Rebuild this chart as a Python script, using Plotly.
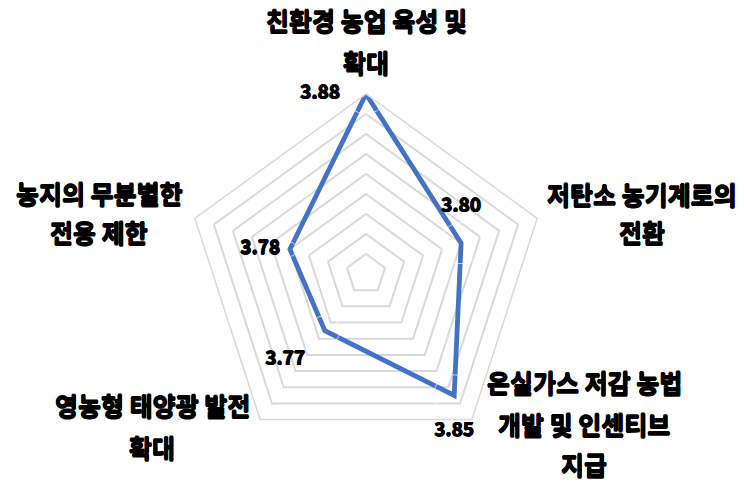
import plotly.graph_objects as go

categories = ["친환경 농업 육성 및 확대", "저탄소 농기계로의 전환",
              "온실가스 저감 농법 개발 및 인센티브 지급",
              "영농형 태양광 발전 확대", "농지의 무분별한 전용 제한"]
values = [3.88, 3.80, 3.85, 3.77, 3.78]
value_labels = ["3.88", "3.80", "3.85", "3.77", "3.78"]
ring_values = [3.72, 3.74, 3.76, 3.78, 3.80, 3.82, 3.84, 3.86]
label_lines = [["친환경 농업 육성 및", "확대"],
               ["저탄소 농기계로의", "전환"],
               ["온실가스 저감 농법", "개발 및 인센티브", "지급"],
               ["영농형 태양광 발전", "확대"],
               ["농지의 무분별한", "전용 제한"]]

# layout-only: label block centre x and y of each line (px from top-left)
label_x = [366, 642, 584, 152, 99]
label_y = [[20, 62], [194, 232], [382, 424, 464], [405, 447], [193, 232]]
text_positions = ["middle left", "top center", "bottom center", "bottom left", "middle left"]
label_offsets = [40, 41, 41, 30, 14]   # invisible marker sizes (set text standoff)

W, H = 744, 484
FONT = "Noto Sans CJK KR"
HEAVY = "0.6px 0 0 black, -0.6px 0 0 black, 0 0.6px 0 black, 0 -0.6px 0 black"

fig = go.Figure()
fig.add_trace(go.Scatterpolar(
    r=values + values[:1],
    theta=categories + categories[:1],
    mode="lines",
    line=dict(color="#4472C4", width=4.8),
    hoverinfo="skip",
))
fig.add_trace(go.Scatterpolar(
    r=values,
    theta=categories,
    mode="markers+text",
    marker=dict(size=label_offsets, color="rgba(0,0,0,0)"),
    text=value_labels,
    textposition=text_positions,
    textfont=dict(family=FONT, size=19, color="black", weight="bold", shadow=HEAVY),
    cliponaxis=False,
    hoverinfo="skip",
))

cx, cy, R = 366, 274, 180
fig.update_layout(
    width=W, height=H,
    margin=dict(l=0, r=0, t=0, b=0),
    paper_bgcolor="white",
    showlegend=False,
    polar=dict(
        domain=dict(x=[(cx - R) / W, (cx + R) / W], y=[(H - cy - R) / H, (H - cy + R) / H]),
        bgcolor="white",
        gridshape="linear",
        radialaxis=dict(range=[3.70, 3.88], tickvals=ring_values, showticklabels=False,
                        ticks="", showline=False, gridcolor="#D9D9D9", gridwidth=1.5),
        angularaxis=dict(rotation=90, direction="clockwise", showgrid=False,
                         showticklabels=False, ticks="", showline=True,
                         linecolor="#D9D9D9", linewidth=1.5),
    ),
)

for lines, px, ys in zip(label_lines, label_x, label_y):
    for ln, py in zip(lines, ys):
        fig.add_annotation(
            x=px / W, y=1 - py / H, xref="paper", yref="paper",
            text=ln, showarrow=False, xanchor="center", yanchor="middle",
            font=dict(family=FONT, size=25, color="black", weight="bold", shadow=HEAVY),
        )

fig.write_html("out.html", config={"displayModeBar": False},
               post_script="document.body.style.margin='0';")
